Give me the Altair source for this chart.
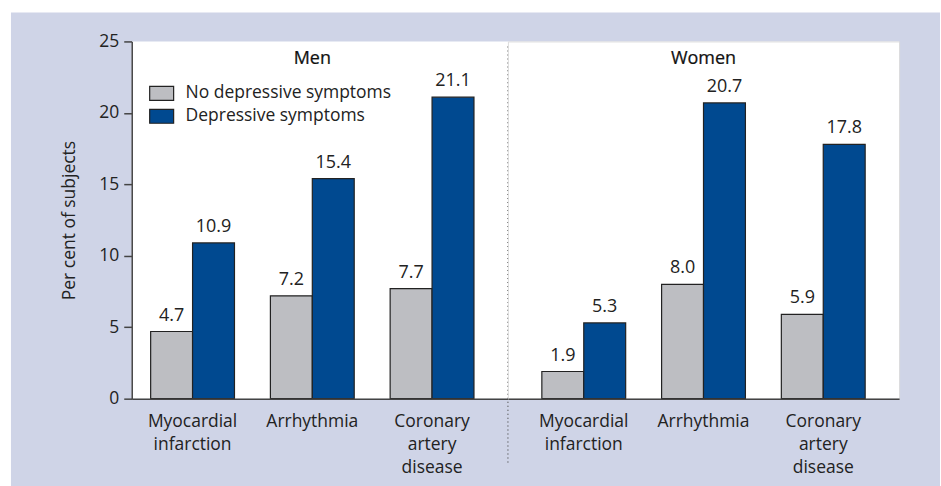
import altair as alt
import pandas as pd

conditions = ["Myocardial infarction", "Arrhythmia", "Coronary artery disease"]
groups = ["No depressive symptoms", "Depressive symptoms"]
sexes = ["Men", "Women"]
men_no = [4.7, 7.2, 7.7]
men_dep = [10.9, 15.4, 21.1]
women_no = [1.9, 8.0, 5.9]
women_dep = [5.3, 20.7, 17.8]
y_ticks = [0, 5, 10, 15, 20, 25]
colors = ["#bdbec2", "#004990"]

LAV = "#cfd4e7"
FONT = "Open Sans"
TXT = "#222222"
AX = "#444444"

rows = []
for sex, no_vals, dep_vals in [("Men", men_no, men_dep), ("Women", women_no, women_dep)]:
    for c, a, b in zip(conditions, no_vals, dep_vals):
        rows.append({"sex": sex, "condition": c, "group": groups[0], "value": a})
        rows.append({"sex": sex, "condition": c, "group": groups[1], "value": b})
df = pd.DataFrame(rows)

H = 358


def panel(sex, width, pad_outer, align, first):
    xscale = alt.Scale(domain=conditions, paddingInner=0.3, paddingOuter=pad_outer, align=align)
    xaxis = alt.Axis(title=None, labelAngle=0, labelExpr="split(datum.label, ' ')", ticks=False,
                     labelFontSize=17.5, labelPadding=14, labelLineHeight=23, labelColor=TXT,
                     domainColor=AX, domainWidth=1.5, labelFont=FONT, zindex=1)
    x = alt.X("condition:N", sort=conditions, scale=xscale, axis=xaxis)
    if first:
        yaxis = alt.Axis(values=y_ticks, title="Per cent of subjects", titleFontSize=17.5,
                         titleFontWeight="normal", titleColor=TXT, titlePadding=20, titleFont=FONT,
                         labelFontSize=17.5, labelColor=TXT, labelFont=FONT, tickSize=8, tickColor=AX,
                         tickWidth=1.5, domainColor=AX, domainWidth=1.5, grid=False,
                         labelPadding=5, zindex=1)
    else:
        yaxis = None
    y = alt.Y("value:Q", scale=alt.Scale(domain=[0, 25], nice=False), axis=yaxis)
    xo = alt.XOffset("group:N", sort=groups, scale=alt.Scale(domain=groups, paddingInner=0, paddingOuter=0))
    base = alt.Chart(df).transform_filter(alt.datum.sex == sex)
    bars = base.mark_bar(stroke="#222222", strokeWidth=1.2).encode(
        x=x, xOffset=xo, y=y,
        color=alt.Color("group:N", sort=groups, scale=alt.Scale(domain=groups, range=colors),
                        legend=alt.Legend(title=None, orient="none", legendX=17, legendY=39,
                                          symbolType="M-1,-0.5833L1,-0.5833L1,0.5833L-1,0.5833Z",
                                          symbolSize=576, symbolStrokeColor="#222222",
                                          symbolStrokeWidth=1.2, symbolOpacity=1,
                                          labelFontSize=17.5, labelColor=TXT, labelFont=FONT,
                                          labelOffset=11, labelLimit=0, rowPadding=-2, padding=0)),
    )
    labels = base.mark_text(baseline="bottom", dy=-7, fontSize=18, color=TXT, font=FONT).encode(
        x=x, xOffset=xo, y=y, text=alt.Text("value:Q", format=".1f"))
    title = alt.Chart(pd.DataFrame({"label": [sex], "condition": [conditions[1]]})).mark_text(
        fontSize=18, fontWeight="normal", color="#111111", stroke="#111111", strokeWidth=0.25,
        font=FONT, baseline="middle").encode(
        x=x, y=alt.value(18), text="label:N")
    layers = []
    if first:
        one = pd.DataFrame({"a": [0]})
        bg = alt.Chart(one).mark_rect(color=LAV).encode(
            x=alt.value(-121), x2=alt.value(810), y=alt.value(-29), y2=alt.value(446))
        white = alt.Chart(one).mark_rect(color="white").encode(
            x=alt.value(0), x2=alt.value(769), y=alt.value(0), y2=alt.value(H))
        divider = alt.Chart(one).mark_rule(color="#555555", strokeDash=[1, 3], strokeWidth=1.3).encode(
            x=alt.value(width), y=alt.value(5), y2=alt.value(422))
        layers = [bg, white, divider]
    return alt.layer(*layers, bars, labels, title).properties(width=width, height=H)


men = panel("Men", 377, 0.2208, 0.358, True)
women = panel("Women", 392, 0.2833, 0.5, False)

chart = alt.hconcat(men, women, spacing=0, bounds="flush").resolve_scale(
    xOffset="independent"
).properties(
    padding={"left": 10, "top": 11, "right": 0, "bottom": 0}, background="white"
).configure_view(stroke=None).configure(font=FONT)

chart.save("out.html", embed_options={"renderer": "svg", "actions": False})
